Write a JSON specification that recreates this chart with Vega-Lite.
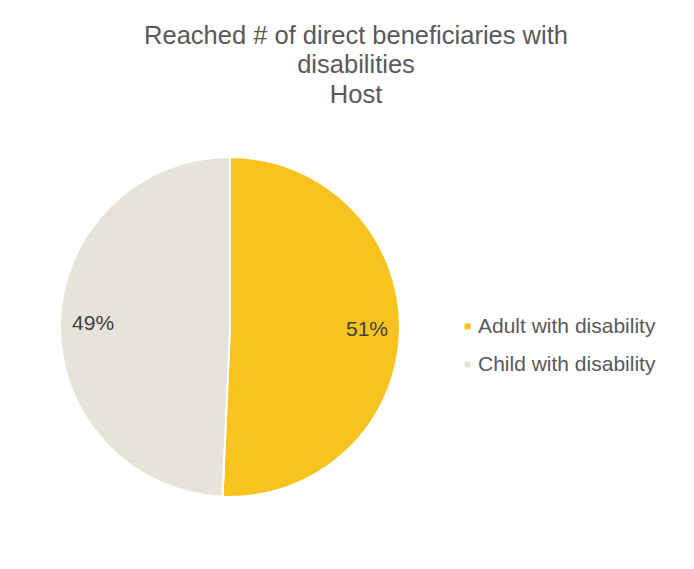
{
  "$schema": "https://vega.github.io/schema/vega-lite/v6.json",
  "width": 340,
  "height": 340,
  "autosize": "none",
  "padding": {"left": 60, "top": 157, "right": 294, "bottom": 72},
  "background": "white",
  "title": {
    "text": ["Reached # of direct beneficiaries with", "disabilities", "Host"],
    "font": "Liberation Sans",
    "fontSize": 25.5,
    "fontWeight": "normal",
    "color": "#595959",
    "lineHeight": 29.5,
    "anchor": "middle",
    "dx": 126,
    "offset": 45
  },
  "data": {
    "values": [
      {"category": "Adult with disability", "share": 0.507},
      {"category": "Child with disability", "share": 0.493}
    ]
  },
  "encoding": {
    "theta": {"field": "share", "type": "quantitative", "stack": true},
    "order": {"field": "category", "type": "nominal"},
    "color": {
      "field": "category",
      "type": "nominal",
      "scale": {
        "domain": ["Adult with disability", "Child with disability"],
        "range": ["#F9C31F", "#E6E4D8"]
      },
      "legend": {
        "title": null,
        "orient": "none",
        "legendX": 397,
        "legendY": 159,
        "symbolType": "square",
        "symbolSize": 36,
        "symbolStrokeWidth": 0,
        "labelFont": "Liberation Sans",
        "labelFontSize": 21,
        "labelColor": "#595959",
        "labelLimit": 400,
        "rowPadding": 16,
        "labelOffset": 0
      }
    }
  },
  "layer": [
    {
      "mark": {"type": "arc", "outerRadius": 170, "stroke": "white", "strokeWidth": 2}
    },
    {
      "mark": {"type": "text", "radius": 137, "font": "Liberation Sans", "fontSize": 21},
      "encoding": {
        "text": {"field": "share", "type": "quantitative", "format": ".0%"},
        "color": {"value": "#404040"}
      }
    }
  ],
  "config": {"view": {"stroke": null}}
}
